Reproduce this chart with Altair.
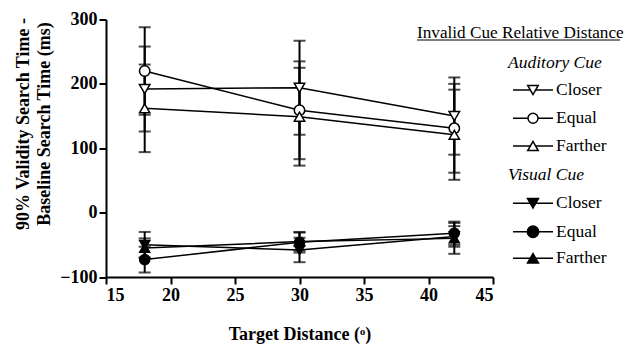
import altair as alt
import pandas as pd

# ---- data ----
x_vals = [18, 30, 42]
conditions = ["Closer", "Equal", "Farther"]

aud_closer = [192, 194, 150]
aud_closer_err = [66, 73, 60]
aud_equal = [220, 159, 131]
aud_equal_err = [68, 76, 69]
aud_farther = [162, 149, 121]
aud_farther_err = [68, 76, 70]

vis_closer = [-50, -58, -37]
vis_closer_err = [20, 19, 16]
vis_equal = [-73, -46, -32]
vis_equal_err = [20, 16, 18]
vis_farther = [-55, -45, -40]
vis_farther_err = [15, 14, 24]

series_names = ["Auditory Closer", "Auditory Equal", "Auditory Farther",
                "Visual Closer", "Visual Equal", "Visual Farther"]
series_vals = [aud_closer, aud_equal, aud_farther, vis_closer, vis_equal, vis_farther]
series_errs = [aud_closer_err, aud_equal_err, aud_farther_err,
               vis_closer_err, vis_equal_err, vis_farther_err]
shapes = ["triangle-down", "circle", "triangle-up"] * 2
fills = ["white"] * 3 + ["black"] * 3
sizes = [110, 100, 110, 120, 130, 120]

rows = []
for name, vals, errs in zip(series_names, series_vals, series_errs):
    for xv, v, e in zip(x_vals, vals, errs):
        rows.append({"series": name, "x": xv, "y": v, "lo": v - e, "hi": v + e})
df = pd.DataFrame(rows)

FONT = "Liberation Serif, Times New Roman, serif"
W, H = 387, 257.5

xs = alt.Scale(domain=[15, 45], nice=False, zero=False)
ys = alt.Scale(domain=[-100, 300], nice=False, zero=False)

xaxis = alt.Axis(values=[15, 20, 25, 30, 35, 40, 45], title="Target Distance (ᵒ)",
                 titleFontSize=18, titleY=57, titleBaseline="middle", labelPadding=2)
yaxis = alt.Axis(values=[-100, 0, 100, 200, 300],
                 title=["90% Validity Search Time -", "Baseline Search Time (ms)"],
                 titleFontSize=18, titleAngle=270, titleX=-83, titleY=104,
                 titleAlign="center", titleBaseline="middle", titleLineHeight=21,
                 labelPadding=2)

base = alt.Chart(df)

err = base.mark_rule(color="black", strokeWidth=2).encode(
    x=alt.X("x:Q", scale=xs, axis=xaxis),
    y=alt.Y("lo:Q", scale=ys, axis=yaxis),
    y2="hi:Q",
    detail="series:N",
)
cap_lo = base.mark_tick(orient="horizontal", color="black", size=12, thickness=2).encode(
    x=alt.X("x:Q", scale=xs), y=alt.Y("lo:Q", scale=ys))
cap_hi = base.mark_tick(orient="horizontal", color="black", size=12, thickness=2).encode(
    x=alt.X("x:Q", scale=xs), y=alt.Y("hi:Q", scale=ys))
lines = base.mark_line(color="black", strokeWidth=1.5).encode(
    x=alt.X("x:Q", scale=xs), y=alt.Y("y:Q", scale=ys), detail="series:N")
pts = base.mark_point(opacity=1, stroke="black", strokeWidth=1.5).encode(
    x=alt.X("x:Q", scale=xs), y=alt.Y("y:Q", scale=ys),
    shape=alt.Shape("series:N", scale=alt.Scale(domain=series_names, range=shapes), legend=None),
    fill=alt.Fill("series:N", scale=alt.Scale(domain=series_names, range=fills), legend=None),
    size=alt.Size("series:N", scale=alt.Scale(domain=series_names, range=sizes), legend=None),
)

# ---- hand-drawn legend ----
one = pd.DataFrame({"k": [0]})
LFS = 17.5
legend_layers = []
legend_layers.append(
    alt.Chart(one).mark_text(font=FONT, fontSize=17.2, align="left", baseline="middle", color="black")
    .encode(text=alt.value("Invalid Cue Relative Distance"), x=alt.value(311), y=alt.value(13.5)))
legend_layers.append(
    alt.Chart(one).mark_rule(color="black", strokeWidth=1)
    .encode(x=alt.value(311), x2=alt.value(514), y=alt.value(20.5)))
group_titles = ["Auditory Cue", "Visual Cue"]
group_y = [43.5, 155.5]
row_y = [[70.5, 98.8, 126.5], [183.8, 212.2, 238.8]]
for g, gt in enumerate(group_titles):
    legend_layers.append(
        alt.Chart(one).mark_text(font=FONT, fontSize=LFS, fontStyle="italic", align="left",
                                 baseline="middle", color="black")
        .encode(text=alt.value(gt), x=alt.value(402), y=alt.value(group_y[g])))
    for i, cond in enumerate(conditions):
        idx = g * 3 + i
        yy = row_y[g][i]
        legend_layers.append(
            alt.Chart(one).mark_rule(color="black", strokeWidth=1.5)
            .encode(x=alt.value(407), x2=alt.value(447), y=alt.value(yy)))
        legend_layers.append(
            alt.Chart(one).mark_point(shape=shapes[idx], fill=fills[idx], stroke="black",
                                      strokeWidth=1.5, opacity=1, size=sizes[idx])
            .encode(x=alt.value(427), y=alt.value(yy)))
        legend_layers.append(
            alt.Chart(one).mark_text(font=FONT, fontSize=LFS, align="left", baseline="middle",
                                     color="black")
            .encode(text=alt.value(cond), x=alt.value(450), y=alt.value(yy)))

chart = alt.layer(err, cap_lo, cap_hi, lines, pts, *legend_layers).properties(
    width=W, height=H,
    autosize=alt.AutoSizeParams(type="none"),
    padding={"left": 98, "top": 11.5, "right": 132, "bottom": 67},
).configure_view(stroke=None).configure_axis(
    grid=False, labelFont=FONT, labelFontWeight="bold", labelFontSize=18, labelColor="black",
    titleFont=FONT, titleFontWeight="bold", titleColor="black",
    domainColor="black", domainWidth=2, tickColor="black", tickWidth=2, tickSize=7,
)

chart.save("out.html", embed_options={"renderer": "svg", "actions": False})
